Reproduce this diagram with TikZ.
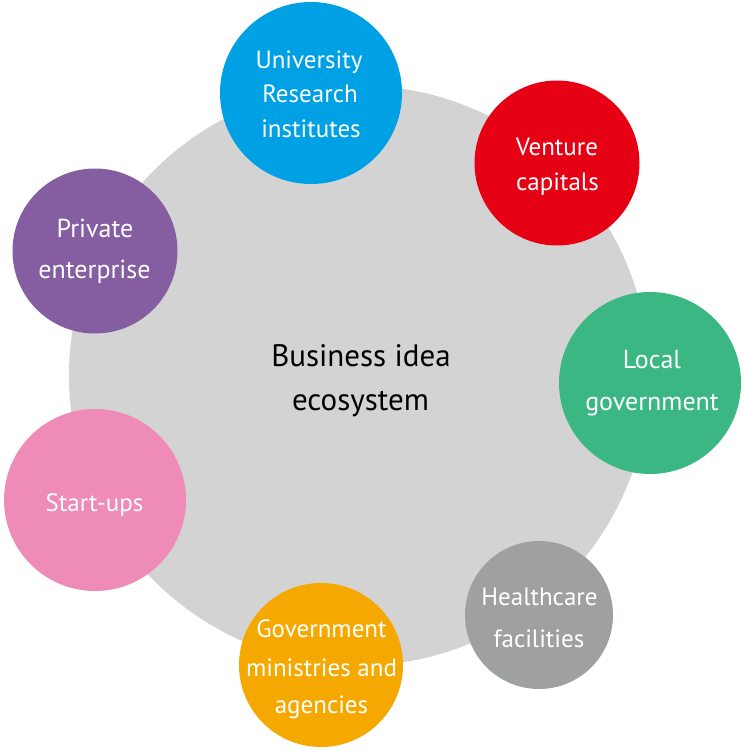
\documentclass[tikz,border=0pt]{standalone}
\usepackage{fontspec}
\setmainfont{PT Sans}
\definecolor{bigc}{HTML}{D3D3D3}
\definecolor{cblue}{HTML}{00A0E4}
\definecolor{cred}{HTML}{E60013}
\definecolor{cpurple}{HTML}{845EA0}
\definecolor{cgreen}{HTML}{3BB783}
\definecolor{cpink}{HTML}{EE8BB6}
\definecolor{cgray}{HTML}{9FA0A0}
\definecolor{corange}{HTML}{F5A900}
\tikzset{
  bubble/.style={circle, inner sep=0pt},
  wt/.style={anchor=base, inner sep=0pt, text=white, font=\fontsize{25}{30}\selectfont},
  wtl/.style={wt, font=\fontsize{26}{30}\selectfont},
  bt/.style={anchor=base, inner sep=0pt, text=black, font=\fontsize{31}{36}\selectfont},
}
\begin{document}
\begin{tikzpicture}[x=1pt,y=-1pt]
\useasboundingbox (0,0) rectangle (744,750);
\node[bubble, fill=bigc, minimum size=580pt] (eco) at (359,375.5) {};
\node[bt] (eco1) at (361,366) {Business idea};
\node[bt] (eco2) at (360.5,410) {ecosystem};

\node[bubble, fill=cblue, minimum size=182pt] (uni) at (311,93) {};
\node[wt] (uni1) at (309,68) {University};
\node[wt] (uni2) at (310,102) {Research};
\node[wt] (uni3) at (311,137) {institutes};

\node[bubble, fill=cred, minimum size=165pt] (vc) at (557,163) {};
\node[wt] (vc1) at (557,155) {Venture};
\node[wt] (vc2) at (557.5,190) {capitals};

\node[bubble, fill=cpurple, minimum size=165pt] (pe) at (95,251) {};
\node[wtl] (pe1) at (95,237) {Private};
\node[wtl] (pe2) at (94.5,278) {enterprise};

\node[bubble, fill=cgreen, minimum size=182pt] (lg) at (650,383) {};
\node[wtl] (lg1) at (652,368) {Local};
\node[wtl] (lg2) at (652,410) {government};

\node[bubble, fill=cpink, minimum size=182pt] (su) at (95,500) {};
\node[wt] (su1) at (94.5,511) {Start-ups};

\node[bubble, fill=cgray, minimum size=148pt] (hc) at (539,615) {};
\node[wt] (hc1) at (539.5,605) {Healthcare};
\node[wt] (hc2) at (539,647) {facilities};

\node[bubble, fill=corange, minimum size=164pt] (gm) at (321,665) {};
\node[wt] (gm1) at (321.5,637) {Government};
\node[wt] (gm2) at (321.5,676) {ministries and};
\node[wt] (gm3) at (321.5,713) {agencies};
\end{tikzpicture}
\end{document}
